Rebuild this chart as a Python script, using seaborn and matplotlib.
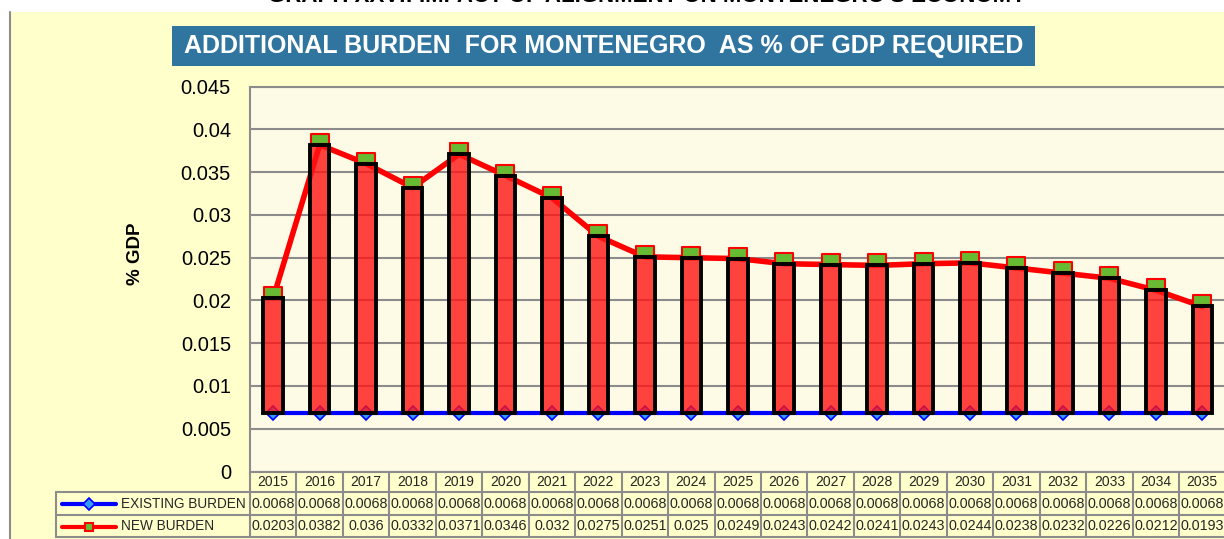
import matplotlib
matplotlib.use('Agg')
import numpy as np
import pandas as pd
import matplotlib.pyplot as plt
import seaborn as sns
from matplotlib.path import Path
from matplotlib.markers import MarkerStyle
from matplotlib.patches import Rectangle
from matplotlib.lines import Line2D

years = [2015, 2016, 2017, 2018, 2019, 2020, 2021, 2022, 2023, 2024, 2025,
         2026, 2027, 2028, 2029, 2030, 2031, 2032, 2033, 2034, 2035]
existing_burden = [0.0068, 0.0068, 0.0068, 0.0068, 0.0068, 0.0068, 0.0068,
                   0.0068, 0.0068, 0.0068, 0.0068, 0.0068, 0.0068, 0.0068,
                   0.0068, 0.0068, 0.0068, 0.0068, 0.0068, 0.0068, 0.0068]
new_burden = [0.0203, 0.0382, 0.036, 0.0332, 0.0371, 0.0346, 0.032,
              0.0275, 0.0251, 0.025, 0.0249, 0.0243, 0.0242, 0.0241,
              0.0243, 0.0244, 0.0238, 0.0232, 0.0226, 0.0212, 0.0193]
ytick_vals = [0, 0.005, 0.01, 0.015, 0.02, 0.025, 0.03, 0.035, 0.04, 0.045]
ytick_labels = ['0', '0.005', '0.01', '0.015', '0.02', '0.025', '0.03',
                '0.035', '0.04', '0.045']

df = pd.DataFrame({'x': np.arange(len(years)), 'year': years,
                   'existing': existing_burden, 'new': new_burden})

sns.set_theme(style='white')
plt.rcParams['font.family'] = ['Liberation Sans', 'DejaVu Sans']

W, H = 1224, 539
fig = plt.figure(figsize=(W / 100, H / 100), dpi=100)
fig.patch.set_facecolor('white')


def fx(px):
    return px / W


def fy(py):
    return 1 - py / H


GRID = '#8C8C8C'

# yellow chart area + left border (kept behind the axes)
fig.add_artist(Rectangle((fx(10), 0), 1 - fx(10), fy(12), transform=fig.transFigure,
                         facecolor='#FFFFCC', edgecolor='none', zorder=-10))
fig.add_artist(Line2D([fx(10), fx(10)], [0, fy(12)], color=GRID, lw=1.5, zorder=-9))

# cut-off page title at the very top
fig.text(fx(647), fy(2), "GRAPH XXVI: IMPACT OF ALIGNMENT ON MONTENEGRO'S ECONOMY",
         ha='center', va='baseline', fontsize=16, fontweight='bold', color='black')

# title box
fig.add_artist(Rectangle((fx(172), fy(66)), fx(1035) - fx(172), (66 - 26) / H,
                         transform=fig.transFigure, facecolor='#2F75A0',
                         edgecolor='none', zorder=1))
fig.text(fx(603.5), fy(46.5), 'ADDITIONAL BURDEN  FOR MONTENEGRO  AS % OF GDP REQUIRED',
         ha='center', va='center', fontsize=18, fontweight='bold', color='white', zorder=2)

# main axes
AX_L, AX_R, AX_T, AX_B = 250, 1225.5, 86.7, 471.5
ax = fig.add_axes([fx(AX_L), fy(AX_B), fx(AX_R) - fx(AX_L), (AX_B - AX_T) / H])
ax.set_facecolor('#FDFBE6')

# floating bars between existing and new burden
ax.bar(df['x'], df['new'] - df['existing'], bottom=df['existing'], width=0.42,
       facecolor=(1.0, 0.08, 0.08, 0.8), edgecolor='black', linewidth=2.8, zorder=4)

sns.lineplot(data=df, x='x', y='new', color='#FF0000', lw=4, ax=ax, zorder=2)
sns.lineplot(data=df, x='x', y='existing', color='#0000FF', lw=3, ax=ax, zorder=2)

# Excel-like square markers sitting on top of the value
sq = Path([(-0.85, 0.1), (0.85, 0.1), (0.85, 1.1), (-0.85, 1.1), (-0.85, 0.1)],
          [Path.MOVETO, Path.LINETO, Path.LINETO, Path.LINETO, Path.CLOSEPOLY])
ax.plot(df['x'], df['new'], ls='none', marker=MarkerStyle(sq), ms=16.5,
        mfc='#66BB33', mec='#FF0000', mew=1.5, zorder=3)
ax.plot(df['x'], df['existing'], ls='none', marker='D', ms=7,
        mfc='#3399FF', mec='#0000FF', mew=1.2, zorder=3)

ax.set_xlim(-0.5, len(years) - 0.5)
ax.set_ylim(0, 0.045)
ax.set_xticks([])
ax.set_yticks(ytick_vals)
ax.set_yticklabels(ytick_labels)
ax.yaxis.grid(True, color=GRID, lw=1.5)
ax.set_axisbelow(True)
ax.tick_params(axis='y', length=0, pad=13.7, labelsize=14.5, labelcolor='black')
ax.set_xlabel('')
ax.set_ylabel('')
for side in ['left', 'top', 'bottom']:
    ax.spines[side].set_color(GRID)
    ax.spines[side].set_linewidth(1.5)
ax.spines['right'].set_visible(False)

fig.text(fx(135), fy(254), '% GDP', rotation=90, ha='center', va='center',
         fontsize=13.5, fontweight='bold', color='black')

# data table under the plot
AW = AX_R - AX_L
AH = AX_B - AX_T


def axx(px):
    return (px - AX_L) / AW


def axy(py):
    return (AX_B - py) / AH


n = len(years)
T = ax.transAxes
row_lines = [492.3, 515, 537]
for py in row_lines:
    ax.add_line(Line2D([axx(56), 1.0], [axy(py), axy(py)], color=GRID, lw=1.5,
                       transform=T, clip_on=False))
for i in range(n + 1):
    ax.add_line(Line2D([i / n, i / n], [axy(AX_B), axy(537)], color=GRID, lw=1.5,
                       transform=T, clip_on=False))
ax.add_line(Line2D([axx(56), axx(56)], [axy(492.3), axy(537)], color=GRID, lw=1.5,
                   transform=T, clip_on=False))

for i, (yr, ex, nb) in enumerate(zip(years, existing_burden, new_burden)):
    cx = (i + 0.5) / n
    ax.text(cx, axy(482.5), str(yr), transform=T, ha='center', va='center',
            fontsize=10, clip_on=False)
    ax.text(cx, axy(504), f"{ex:g}", transform=T, ha='center', va='center',
            fontsize=10.3, clip_on=False)
    ax.text(cx, axy(526.5), f"{nb:g}", transform=T, ha='center', va='center',
            fontsize=10.3, clip_on=False)

# legend keys in the table
ax.add_line(Line2D([axx(62), axx(116)], [axy(504), axy(504)], color='#0000FF', lw=3,
                   transform=T, clip_on=False))
ax.add_line(Line2D([axx(89)], [axy(504)], ls='none', marker='D', ms=6, mfc='#3399FF',
                   mec='#0000FF', mew=1.2, transform=T, clip_on=False))
ax.add_line(Line2D([axx(62), axx(116)], [axy(526.5), axy(526.5)], color='#FF0000', lw=3,
                   transform=T, clip_on=False))
ax.add_line(Line2D([axx(89)], [axy(526.5)], ls='none', marker='s', ms=6, mfc='#66BB33',
                   mec='#FF0000', mew=1.5, transform=T, clip_on=False))
ax.text(axx(121), axy(504), 'EXISTING BURDEN', transform=T, ha='left', va='center',
        fontsize=9.8, clip_on=False)
ax.text(axx(121), axy(526.5), 'NEW BURDEN', transform=T, ha='left', va='center',
        fontsize=9.8, clip_on=False)

fig.savefig('out.png', dpi=100, facecolor=fig.get_facecolor())
